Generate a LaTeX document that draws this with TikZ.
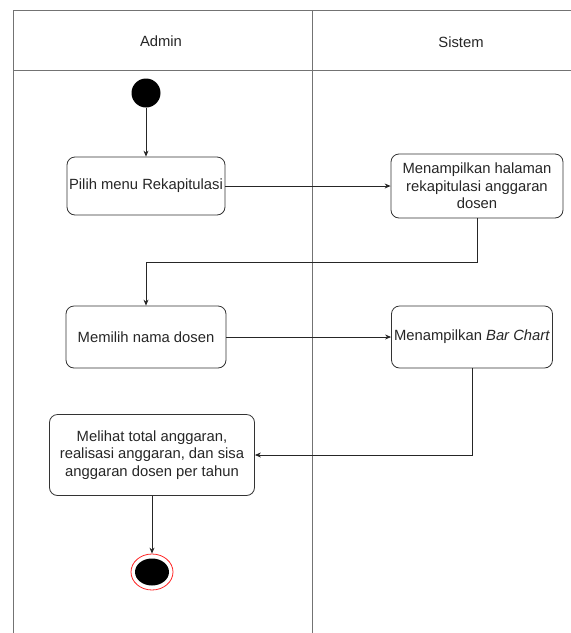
\documentclass[tikz,border=0pt]{standalone}
\usepackage{fontspec}
\setmainfont{Liberation Sans}
\usetikzlibrary{arrows.meta,shapes.geometric}
\begin{document}
\begin{tikzpicture}[x=1pt,y=-1pt,
		font=\fontsize{14.8}{17.5}\selectfont,
		lane/.style={draw=black!55, line width=0.9pt},
		act/.style={draw=black!80, rounded corners=8pt, align=center, inner sep=0pt, text=black!85, line width=0.8pt},
		flow/.style={draw=black!85, line width=0.8pt, -{Stealth[length=6pt,width=5pt]}} ]
	\useasboundingbox (0,0) rectangle (571,633);
	% swimlanes
	\draw[lane] (13,10) -- (571,10);
	\draw[lane] (13,70) -- (571,70);
	\draw[lane] (13,10) -- (13,633);
	\draw[lane] (312,10) -- (312,633);
	\node[text=black!85] (admin) at (161,41) {Admin};
	\node[text=black!85] (sistem) at (461,42) {Sistem};
	% activities
	\node [circle, fill=black, minimum size=29pt, inner sep=0pt] (start) at (146,93) {};
	\node [act, minimum width=158pt, minimum height=58pt] (pilih) at (146,186) {Pilih menu Rekapitulasi};
	\node [act, minimum width=172pt, minimum height=64pt] (tampil) at (477,186) {Menampilkan halaman\\ rekapitulasi anggaran\\ dosen};
	\node [act, minimum width=160pt, minimum height=62pt] (memilih) at (146,337) {Memilih nama dosen};
	\node [act, minimum width=161pt, minimum height=62pt] (chart) at (472,337) {Menampilkan \textit{Bar Chart}};
	\node [act, minimum width=205pt, minimum height=81pt] (melihat) at (152,455) {Melihat total anggaran,\\ realisasi anggaran, dan sisa\\ anggaran dosen per tahun};
	\node [ellipse, draw=red!85, line width=0.8pt, minimum width=42pt, minimum height=36pt, inner sep=0pt] (stop) at (152,572) {};
	\node [ellipse, fill=black, minimum width=34pt, minimum height=27pt, inner sep=0pt] (stopdot) at (stop) {};
	% flows
	\draw[flow] (start) -- (pilih);
	\draw[flow] (pilih) -- (tampil);
	\draw[flow] (tampil.south) -- ++(0,44) -| (memilih.north);
	\draw[flow] (memilih) -- (chart);
	\draw[flow] (chart.south) |- (melihat.east);
	\draw[flow] (melihat) -- (stop);
\end{tikzpicture}
\end{document}
